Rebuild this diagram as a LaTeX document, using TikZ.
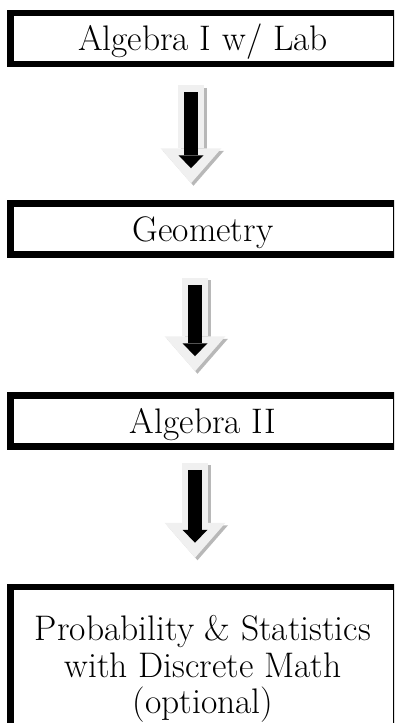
\documentclass[tikz,border=0pt]{standalone}
\usepackage{tikz}
\usetikzlibrary{arrows.meta}

\begin{document}
\begin{tikzpicture}[x=1pt,y=-1pt,
    course/.style={draw,line width=6.5pt,minimum width=385.5pt,
      font=\fontsize{35.5}{36.5}\selectfont,inner sep=0pt},
    onerow/.style={course,minimum height=51pt,text height=24pt,text depth=0pt},
    blockshadow/.style={line width=26pt,draw=black!28,
      -{Triangle[length=35pt,width=61pt,line width=0pt]}},
    blockarrow/.style={line width=26pt,draw=black!6,
      -{Triangle[length=35pt,width=61pt,line width=0pt]}},
    innerarrow/.style={line width=14pt,draw=black,
      -{Triangle[length=13pt,width=25pt,line width=0pt]}}]
        \def\cx{203}

        \useasboundingbox (0,0) rectangle (394,723);
        \clip (0,0) rectangle (394,723);

        %------------------
        % courses
        %------------------
        \node[onerow] (b1) at (\cx,38.5) {Algebra I w/ Lab};
        \node[onerow] (b2) at (\cx,229) {Geometry};
        \node[onerow] (b3) at (\cx,421) {Algebra II};
        \node[course,align=center,minimum height=164pt] (b4) at (\cx,669)
          {Probability \& Statistics\\with Discrete Math\\(optional)};

        %------------------
        % arrows
        %------------------
        \foreach \a/\b/\dx/\sa/\sb in {b1/b2/-12/18/17,b2/b3/-8/20/21,b3/b4/-8/13/26}{
          \draw[blockshadow,transform canvas={xshift=2.5pt,yshift=-2.5pt},
              shorten <=\sa pt,shorten >=\sb pt]
            ([xshift=\dx pt]\a.south) -- ([xshift=\dx pt]\b.north);
          \draw[blockarrow,shorten <=\sa pt,shorten >=\sb pt]
            ([xshift=\dx pt]\a.south) -- ([xshift=\dx pt]\b.north);
          \draw[innerarrow,shorten <=\sa pt+7pt,shorten >=\sb pt+15pt]
            ([xshift=\dx pt]\a.south) -- ([xshift=\dx pt]\b.north);
        }
\end{tikzpicture}
\end{document}
